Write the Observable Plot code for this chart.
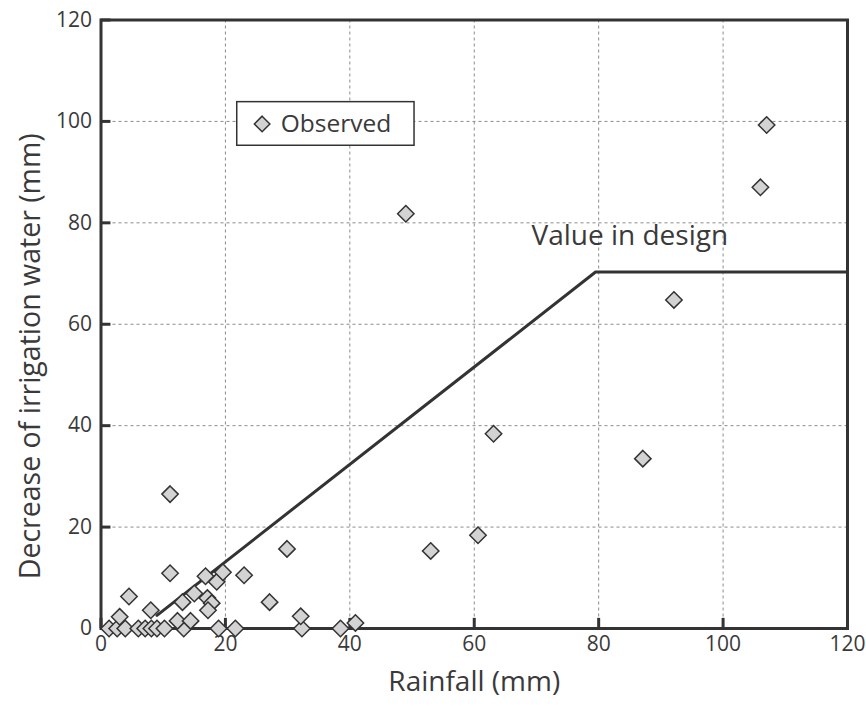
<!DOCTYPE html>
<html><head><meta charset="utf-8">
<script src="https://cdn.jsdelivr.net/npm/d3@7"></script>
<script src="https://cdn.jsdelivr.net/npm/@observablehq/plot@0.6"></script>
<style>body{margin:0;background:#fff} #chart svg{font-family:"Open Sans",sans-serif}</style>
</head><body><div id="chart"></div>
<script>
// Observed points: rainfall (mm) and decrease of irrigation water (mm)
const rainfall = [1.3, 2.6, 3.9, 6.0, 7.1, 8.1, 9.0, 10.2, 13.3, 18.9, 21.6, 32.3, 38.5,
  3.0, 4.5, 8.0, 11.1, 11.1, 12.3, 13.1, 14.4, 15.0, 16.8, 17.1, 17.8, 17.2, 18.6, 19.6,
  23.0, 27.1, 29.9, 32.1, 40.9, 49.0, 53.0, 60.6, 63.1, 87.1, 92.1, 106.0, 107.0];
const decrease = [0, 0, 0, 0, 0, 0, 0, 0, 0, 0, 0, 0, 0,
  2.3, 6.3, 3.6, 10.9, 26.5, 1.5, 5.2, 1.5, 6.9, 10.3, 6.0, 5.0, 3.6, 9.2, 11.1,
  10.5, 5.2, 15.7, 2.4, 1.1, 81.8, 15.3, 18.4, 38.4, 33.5, 64.8, 87.0, 99.3];
// "Value in design" line
const designRain = [9.0, 79.5, 120];
const designDecrease = [2.6, 70.3, 70.3];
// Axis ticks and grid
const xTicks = [0, 20, 40, 60, 80, 100, 120];
const yTicks = [0, 20, 40, 60, 80, 100, 120];
const gridValues = [20, 40, 60, 80, 100];
// Texts
const xTitle = "Rainfall (mm)";
const yTitle = "Decrease of irrigation water (mm)";
const seriesName = "Observed";
const designLabel = "Value in design";

// placement (data units)
const legendBox = {x1: 21.9, x2: 50.4, y1: 95.2, y2: 103.8};
const legendMark = {x: 25.9, y: 99.5};
const legendText = {x: 28.9, y: 99.5};
const designLabelPos = {x: 85, y: 77.4};

const points = rainfall.map((x, i) => ({x, y: decrease[i]}));
const design = designRain.map((x, i) => ({x, y: designDecrease[i]}));
const ink = "#333";
const textInk = "#3a3a3a";

const chart = Plot.plot({
  width: 866, height: 706,
  marginLeft: 100.5, marginRight: 19, marginTop: 19.5, marginBottom: 78,
  x: {domain: [0, 120], axis: null},
  y: {domain: [0, 120], axis: null},
  style: {fontFamily: "Open Sans, sans-serif", color: textInk, background: "#fff"},
  marks: [
    Plot.ruleX(gridValues, {x: d => d, stroke: "#8a8a8a", strokeDasharray: "3,3", strokeWidth: 1}),
    Plot.ruleY(gridValues, {y: d => d, stroke: "#8a8a8a", strokeDasharray: "3,3", strokeWidth: 1}),
    Plot.line(design, {x: "x", y: "y", stroke: ink, strokeWidth: 3}),
    Plot.ruleX(xTicks, {x: d => d, y1: 0, y2: 2, stroke: ink, strokeWidth: 3}),
    Plot.ruleY(yTicks, {y: d => d, x1: 0, x2: 1.6, stroke: ink, strokeWidth: 3}),
    Plot.frame({stroke: ink, strokeWidth: 3}),
    Plot.text(xTicks, {x: d => d, text: d => String(d), frameAnchor: "bottom", lineAnchor: "top", dy: 8, fontSize: 21, fill: textInk}),
    Plot.text(yTicks, {y: d => d, text: d => String(d), frameAnchor: "left", textAnchor: "end", dx: -9, fontSize: 21, fill: textInk}),
    Plot.dot(points, {x: "x", y: "y", symbol: "diamond2", r: 7.4, fill: "#d3d3d3", stroke: ink, strokeWidth: 1.5}),
    Plot.rect([legendBox], {x1: "x1", x2: "x2", y1: "y1", y2: "y2", fill: "#fff", stroke: ink, strokeWidth: 1.5}),
    Plot.dot([legendMark], {x: "x", y: "y", symbol: "diamond2", r: 7, fill: "#d3d3d3", stroke: ink, strokeWidth: 1.5}),
    Plot.text([legendText], {x: "x", y: "y", text: () => seriesName, textAnchor: "start", fontSize: 24.5, fill: textInk}),
    Plot.text([designLabelPos], {x: "x", y: "y", text: () => designLabel, textAnchor: "middle", fontSize: 28, fill: textInk}),
    Plot.text([xTitle], {text: d => d, frameAnchor: "bottom", dy: 62, fontSize: 28, fill: textInk}),
    Plot.text([yTitle], {text: d => d, frameAnchor: "left", textAnchor: "middle", rotate: -90, dx: -70, dy: 32, fontSize: 28.5, fill: textInk})
  ]
});
document.getElementById("chart").append(chart);
</script>
</body></html>
